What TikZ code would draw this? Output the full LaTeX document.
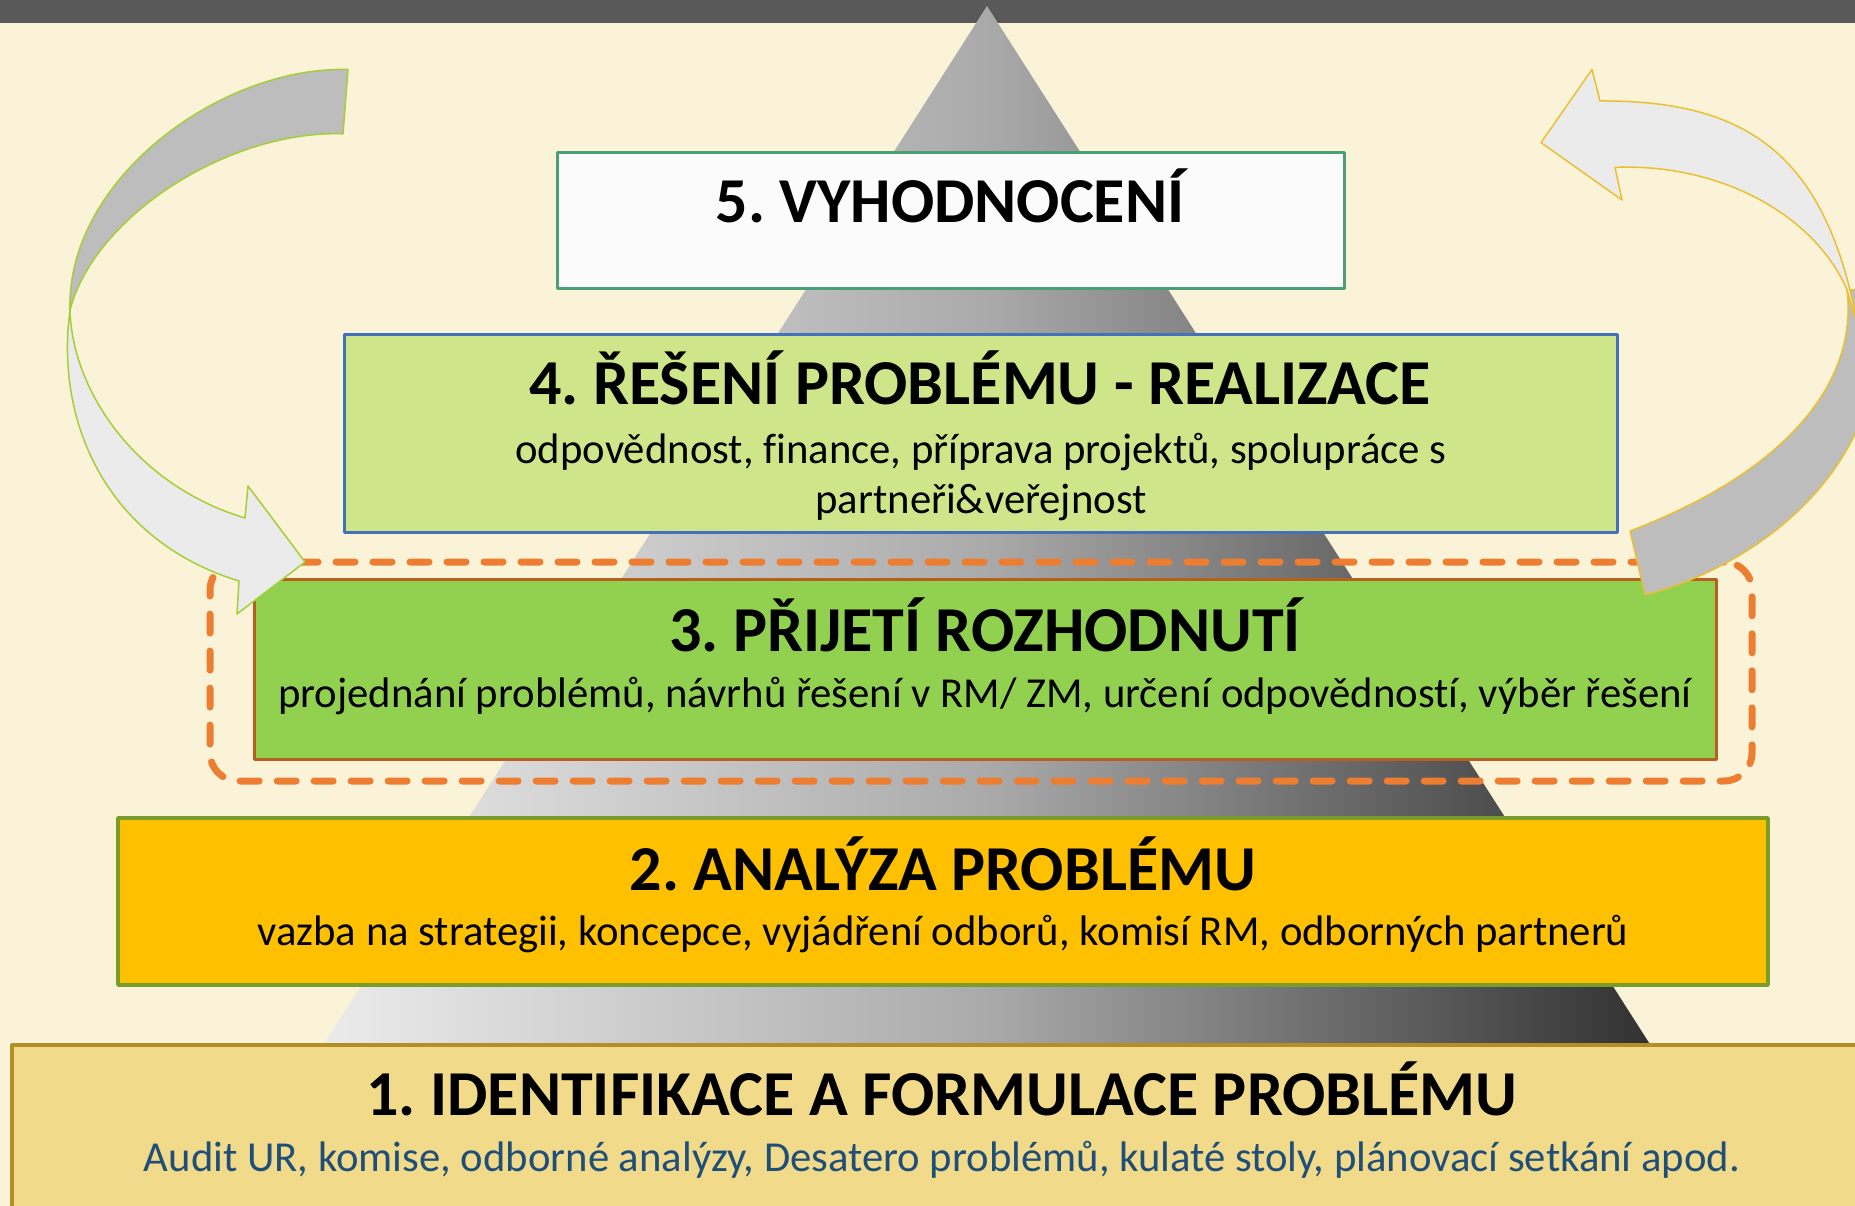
\documentclass[tikz,border=0pt]{standalone}
\usepackage{fontspec}
\setmainfont{Carlito}[Ligatures=NoCommon]
\frenchspacing
\definecolor{bg}{RGB}{250,243,216}
\definecolor{barc}{RGB}{89,89,89}
\definecolor{pyrL}{RGB}{236,236,236}
\definecolor{pyrM}{RGB}{170,170,170}
\definecolor{pyrR}{RGB}{48,48,48}
\definecolor{bfivefill}{RGB}{251,251,251}
\definecolor{bfiveline}{RGB}{76,158,120}
\definecolor{bfourfill}{RGB}{207,229,137}
\definecolor{bfourline}{RGB}{68,114,186}
\definecolor{bthreefill}{RGB}{146,208,80}
\definecolor{bthreeline}{RGB}{181,96,30}
\definecolor{dashor}{RGB}{237,125,49}
\definecolor{btwofill}{RGB}{255,192,0}
\definecolor{btwoline}{RGB}{122,156,42}
\definecolor{bonefill}{RGB}{241,218,137}
\definecolor{boneline}{RGB}{178,144,38}
\definecolor{bonetext}{RGB}{31,78,121}
\definecolor{arrDark}{RGB}{189,189,189}
\definecolor{arrLight}{RGB}{235,235,235}
\definecolor{arrGreen}{RGB}{166,206,57}
\definecolor{arrGold}{RGB}{233,192,50}
\begin{document}
\begin{tikzpicture}[x=1pt,y=-1pt,line join=round,
  boxshape/.style={rectangle,inner sep=0pt,outer sep=0pt,anchor=north west},
  ttl/.style={font=\fontsize{64}{72}\selectfont\bfseries,anchor=base,inner sep=0pt},
  subt/.style={font=\fontsize{42.7}{50}\selectfont,anchor=base,inner sep=0pt},
  arrowpart/.style={line width=1.5pt}]
\useasboundingbox (0,0) rectangle (1855,1206);
\clip (0,0) rectangle (1855,1206);
\fill[bg] (0,0) rectangle (1855,1206);
\fill[barc] (0,0) rectangle (1855,23);
% pyramid
\shade[left color=pyrL,right color=pyrR,middle color=pyrM]
  (987,6) -- (1660,1060) -- (314,1060) -- cycle;
% box 5
\node[boxshape,draw=bfiveline,fill=bfivefill,line width=3pt,minimum width=787pt,minimum height=136pt] (box5) at (557,153) {};
\node[ttl] (t5) at (950,223) {5. VYHODNOCENÍ};
% box 4
\node[boxshape,draw=bfourline,fill=bfourfill,line width=3pt,minimum width=1273pt,minimum height=198pt] (box4) at (344,334) {};
\node[ttl] (t4) at (980,404) {4. ŘEŠENÍ PROBLÉMU - REALIZACE};
\node[subt] (s4a) at (981,463) {odpovědnost, finance, příprava projektů, spolupráce s};
\node[subt] (s4b) at (981,513) {partneři\&veřejnost};
% box 3
\node[boxshape,draw=bthreeline,fill=bthreefill,line width=3pt,minimum width=1462pt,minimum height=180pt] (box3) at (254,579) {};
\node[ttl] (t3) at (985,651) {3. PŘIJETÍ ROZHODNUTÍ};
\node[subt] (s3) at (985,707) {projednání problémů, návrhů řešení v RM/ ZM, určení odpovědností, výběr řešení};
\node[boxshape,draw=dashor,line width=7pt,dash pattern=on 19pt off 18pt,line cap=round,rounded corners=28pt,minimum width=1542pt,minimum height=219pt] (focus) at (210,562) {};
% box 2
\node[boxshape,draw=btwoline,fill=btwofill,line width=3.5pt,minimum width=1650pt,minimum height=167pt] (box2) at (118,818) {};
\node[ttl] (t2) at (943,890) {2. ANALÝZA PROBLÉMU};
\node[subt] (s2) at (943,945) {vazba na strategii, koncepce, vyjádření odborů, komisí RM, odborných partnerů};
% box 1
\node[boxshape,draw=boneline,fill=bonefill,line width=4pt,minimum width=1860pt,minimum height=200pt] (box1) at (12,1045) {};
\node[ttl] (t1) at (942,1115) {1. IDENTIFIKACE A FORMULACE PROBLÉMU};
\node[subt,text=bonetext] (s1) at (942,1171) {Audit UR, komise, odborné analýzy, Desatero problémů, kulaté stoly, plánovací setkání apod.};
% left arrow (twisted ribbon)
\filldraw[arrowpart,fill=arrDark,draw=arrGreen]
  (348,69.5) .. controls (220,66) and (66,180) .. (70,310)
  .. controls (95,215) and (230,130) .. (343,133.8) -- cycle;
\filldraw[arrowpart,fill=arrLight,draw=arrGreen]
  (70,310) .. controls (55,420) and (105,540) .. (239,581)
  -- (237,614) -- (305,562) -- (248,486) -- (245,518)
  .. controls (135,485) and (72,390) .. (70,310) -- cycle;
% right arrow (twisted ribbon)
\filldraw[arrowpart,fill=arrDark,draw=arrGold]
  (1847,290) .. controls (1858,380) and (1790,470) .. (1630,531)
  -- (1645,595) .. controls (1760,565) and (1880,470) .. (1878,330)
  -- (1880,290) -- cycle;
\filldraw[arrowpart,fill=arrLight,draw=arrGold]
  (1847,290) -- (1862,340) -- (1850,290)
  .. controls (1815,150) and (1740,100) .. (1600,101)
  -- (1592,69.5) -- (1541,142.6) -- (1622,200) -- (1615,167.4)
  .. controls (1720,163) and (1815,215) .. (1847,290) -- cycle;
\end{tikzpicture}
\end{document}
